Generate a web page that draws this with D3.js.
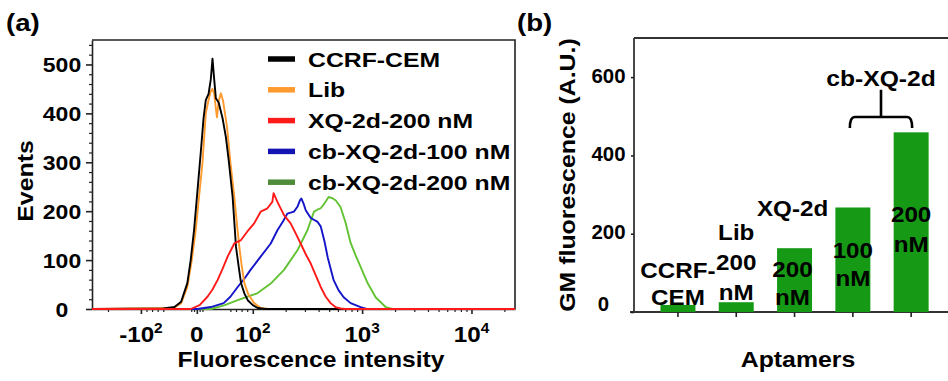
<!DOCTYPE html>
<html><head><meta charset="utf-8">
<script src="https://cdn.jsdelivr.net/npm/d3@7"></script>
<style>
body{margin:0;background:#fff;overflow:hidden;}
svg{display:block;}
text{font-family:"Liberation Sans",Arial,sans-serif;font-weight:bold;fill:#000;}
</style>
</head><body>
<svg id="c" width="948" height="381"></svg>
<script>
// ---------------- DATA ----------------
// Panel (a): flow cytometry histograms, [fluorescence intensity, events]
const seriesNames = ["CCRF-CEM", "Lib", "XQ-2d-200 nM", "cb-XQ-2d-100 nM", "cb-XQ-2d-200 nM"];
const seriesColors = ["#000000", "#ff9a2e", "#ff1a1a", "#1414c8", "#62c232"];
const legendColors = ["#000000", "#ff9a2e", "#ff1a1a", "#1414b4", "#4e8c3a"];

const ccrfCem = [[-280,0],[-60,1],[-40,4],[-28,15],[-17,53],[-11,100],[-5,161],[1,240],[7,320],[12,390],[16,427],[21,440],[25,470],[28,512],[31,470],[34,431],[39,422],[46,390],[52,351],[57,304],[64,229],[70,127],[75,85],[79,53],[85,32],[91,18],[100,8],[111,2],[130,0],[25000,0]];
const lib = [[-280,0],[-41,2],[-28,12],[-17,45],[-9,100],[-2,161],[4,230],[10,298],[16,400],[22,433],[25,445],[28,450],[31,440],[34,410],[36,392],[39,425],[43,441],[47,425],[54,372],[60,300],[67,229],[72,170],[76,127],[80,90],[85,53],[92,30],[103,12],[118,2],[140,0],[25000,0]];
const xq2d200 = [[-280,0],[-11,0],[5,8],[19,25],[28,40],[37,59],[46,82],[55,107],[67,134],[79,141],[90,158],[103,175],[118,199],[135,205],[151,219],[155,237],[168,219],[193,192],[222,175],[250,152],[274,134],[305,112],[339,93],[375,70],[418,45],[465,25],[515,12],[570,4],[636,1],[700,0],[25000,0]];
const cbXq2d100 = [[-280,0],[1,0],[25,4],[48,12],[60,25],[73,45],[85,62],[96,80],[118,107],[146,134],[168,161],[190,180],[207,195],[238,199],[256,209],[270,222],[278,226],[292,215],[305,202],[339,186],[392,178],[418,169],[454,137],[484,106],[549,59],[610,38],[678,24],[785,12],[969,4],[1100,0],[25000,0]];
const cbXq2d200 = [[-280,0],[25,0],[50,8],[73,18],[110,32],[146,52],[193,80],[256,120],[316,161],[363,199],[390,203],[418,206],[450,215],[494,229],[540,226],[575,222],[636,208],[707,176],[785,135],[870,110],[969,86],[1122,53],[1328,24],[1640,4],[1900,0],[25000,0]];

const xDomainA = [-280, 25000];
const yDomainA = [0, 550];
const xMajorTicks = [-100, 0, 100, 1000, 10000];
const xMajorBase = ["-10", "0", "10", "10", "10"];
const xMajorExp = ["2", "", "2", "3", "4"];
const xMinorTicks = [-200,-90,-80,-70,-60,-10,-5,5,10,60,70,80,90,200,300,400,500,600,700,800,900,2000,3000,4000,5000,6000,7000,8000,9000,20000];
const yTicksA = [0, 100, 200, 300, 400, 500];
const yMinorA = [20,40,60,80,120,140,160,180,220,240,260,280,320,340,360,380,420,440,460,480,520,540];

// Panel (b): GM fluorescence bars
const barCategories = ["CCRF-CEM", "Lib 200 nM", "XQ-2d 200 nM", "cb-XQ-2d 100 nM", "cb-XQ-2d 200 nM"];
const barValues = [18, 25, 163, 267, 459];
const barLabelLines = [["CCRF-","CEM"],["Lib","200","nM"],["XQ-2d","200","nM"],["100","nM"],["200","nM"]];
const yDomainB = [0, 700];
const yTicksB = [0, 200, 400, 600];
const groupLabel = "cb-XQ-2d";

// ---------------- DRAWING ----------------
const svg = d3.select("#c");
const AXIS = "#222";

function stext(parent, x, y, str, size, anchor, sx, rot) {
  const g = parent.append("g")
    .attr("transform", `translate(${x},${y})${rot ? ` rotate(${rot})` : ""} scale(${sx},1)`);
  return g.append("text").attr("text-anchor", anchor).style("font-size", size + "px").text(str);
}
function styleAxis(g, w) {
  g.selectAll("line").attr("stroke", AXIS).attr("stroke-width", w);
  g.selectAll("path").attr("stroke", AXIS).attr("stroke-width", w);
}

// ===== Panel (a) =====
const A = {l: 92, r: 515, t: 40, b: 309};
const LOGR = 1.955;
function T(v) { const a = Math.abs(v); if (a <= 100) return v / 100; return Math.sign(v) * (1 + Math.log10(a / 100) * LOGR); }
const xLin = d3.scaleLinear().domain(xDomainA.map(T)).range([A.l, A.r]);
const xA = Object.assign(v => xLin(T(v)), {
  copy() { return xA; }, range() { return xLin.range(); }, domain() { return xDomainA; }
});
const yA = d3.scaleLinear().domain(yDomainA).range([A.b, A.t]);

const gA = svg.append("g");
// frame
gA.append("path").attr("d", `M${A.l},${A.t}H${A.r}V${A.b}`).attr("fill", "none").attr("stroke", AXIS).attr("stroke-width", 1.6);

// y axis
const yAx = gA.append("g").attr("transform", `translate(${A.l},0)`)
  .call(d3.axisLeft(yA).tickValues(yTicksA).tickSize(6).tickPadding(5).tickSizeOuter(0));
styleAxis(yAx, 1.6);
yAx.selectAll("text").style("font-size", "20px").style("font-family", null)
  .attr("text-anchor", "middle")
  .attr("transform", "scale(1.15,1)").attr("x", -30 / 1.15).attr("dy", "0.36em");
const yAm = gA.append("g").attr("transform", `translate(${A.l},0)`)
  .call(d3.axisLeft(yA).tickValues(yMinorA).tickSize(3).tickFormat(""));
yAm.select(".domain").remove();
styleAxis(yAm, 1.2);

// x axis
const xAx = gA.append("g").attr("transform", `translate(0,${A.b})`)
  .call(d3.axisBottom(xA).tickValues(xMajorTicks).tickSize(5).tickFormat("").tickSizeOuter(0));
styleAxis(xAx, 1.6);
const xAm = gA.append("g").attr("transform", `translate(0,${A.b})`)
  .call(d3.axisBottom(xA).tickValues(xMinorTicks).tickSize(3).tickFormat(""));
xAm.select(".domain").remove();
styleAxis(xAm, 1.2);
xMajorTicks.forEach((v, i) => {
  const t = stext(gA, xA(v), 342, xMajorBase[i], 22, "middle", 1.1);
  if (xMajorExp[i]) t.append("tspan").attr("dy", -9).style("font-size", "14px").text(xMajorExp[i]);
});

// titles
stext(gA, 311, 367, "Fluorescence intensity", 22, "middle", 1.12);
stext(gA, 33, 181, "Events", 22, "middle", 1.13, -90);
stext(gA, 6, 31, "(a)", 23, "start", 1.2);

// curves
const line = d3.line().x(d => xA(d[0])).y(d => yA(d[1]));
const allSeries = [ccrfCem, lib, xq2d200, cbXq2d100, cbXq2d200];
[4, 3, 1, 0, 2].forEach(i => {
  gA.append("path").datum(allSeries[i]).attr("d", line)
    .attr("fill", "none").attr("stroke", seriesColors[i]).attr("stroke-width", 1.9)
    .attr("stroke-linejoin", "round");
});

// legend
seriesNames.forEach((n, i) => {
  const cy = 59 + i * 30.8;
  gA.append("line").attr("x1", 268).attr("x2", 295).attr("y1", cy).attr("y2", cy)
    .attr("stroke", legendColors[i]).attr("stroke-width", 5.5);
  stext(gA, 308, cy + 7.5, n, 21, "start", 1.18);
});

// ===== Panel (b) =====
const B = {l: 634, r: 948, t: 38, b: 312};
const xB = d3.scaleBand().domain(barCategories).range([648.8, 940.3]).paddingInner(0.4).paddingOuter(0.2);
const yB = d3.scaleLinear().domain(yDomainB).range([B.b, B.t]);
const gB = svg.append("g");

gB.append("line").attr("x1", B.l).attr("x2", B.r).attr("y1", B.t).attr("y2", B.t).attr("stroke", "#333").attr("stroke-width", 1.8);
gB.append("line").attr("x1", B.l).attr("x2", B.l).attr("y1", B.t).attr("y2", B.b).attr("stroke", "#333").attr("stroke-width", 1.8);
gB.append("line").attr("x1", 630).attr("x2", B.r).attr("y1", B.b).attr("y2", B.b).attr("stroke", "#333").attr("stroke-width", 1.8);

const yBx = gB.append("g").attr("transform", `translate(${B.l},0)`)
  .call(d3.axisLeft(yB).tickValues(yTicksB).tickSize(3).tickPadding(4).tickSizeOuter(0));
yBx.select(".domain").remove();
styleAxis(yBx, 1.6);
yBx.selectAll("text").style("font-size", "20px").style("font-family", null)
  .attr("text-anchor", "middle")
  .attr("transform", "scale(1.02,1)").attr("x", d => d === 0 ? -30 : -25).attr("dy", d => d === 0 ? "-0.1em" : "0.25em");

const xBx = gB.append("g").attr("transform", `translate(0,${B.b})`)
  .call(d3.axisBottom(xB).tickSize(5).tickFormat(""));
xBx.select(".domain").remove();
styleAxis(xBx, 1.6);

gB.selectAll("rect.bar").data(barValues).join("rect").attr("class", "bar")
  .attr("x", (d, i) => xB(barCategories[i])).attr("width", xB.bandwidth())
  .attr("y", d => yB(d)).attr("height", d => yB(0) - yB(d))
  .attr("fill", "#169a16");

// bar labels (baselines in px)
const labelBaselines = [[278, 304.5], [240, 270, 300], [216, 277, 305], [258, 286], [222, 252]];
barLabelLines.forEach((lines, i) => {
  const cx = xB(barCategories[i]) + xB.bandwidth() / 2 + (i === 2 ? -2 : 0);
  lines.forEach((s, j) => stext(gB, cx, labelBaselines[i][j], s, 22, "middle", 1.1));
});

// brace over cb-XQ-2d bars
const bx1 = xB(barCategories[3]) + xB.bandwidth() / 2 - 3;
const bx2 = xB(barCategories[4]) + xB.bandwidth() / 2 + 1;
const bm = (bx1 + bx2) / 2;
const by = yB(498), byEnd = yB(470), byTop = yB(568);
gB.append("path")
  .attr("d", `M${bx1},${byEnd} Q${bx1},${by} ${bx1 + 5},${by} H${bx2 - 5} Q${bx2},${by} ${bx2},${byEnd} M${bm},${by} V${byTop}`)
  .attr("fill", "none").attr("stroke", "#000").attr("stroke-width", 2.6);
stext(gB, bm, 86, groupLabel, 22, "middle", 1.12);

// titles
stext(gB, 575, 175, "GM fluorescence (A.U.)", 22, "middle", 1.13, -90);
stext(gB, 798, 367, "Aptamers", 22, "middle", 1.13);
stext(gB, 517, 31, "(b)", 23, "start", 1.2);

// keep the right edge of panel (b) open
svg.append("rect").attr("x", 941).attr("y", B.t + 1.5).attr("width", 8).attr("height", B.b - B.t - 3).attr("fill", "#fff");
</script>
</body></html>
